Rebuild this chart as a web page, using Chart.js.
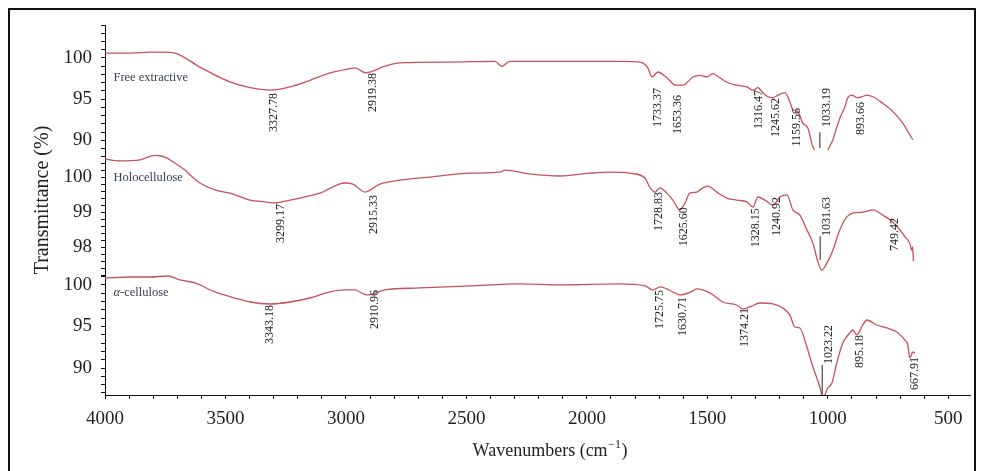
<!DOCTYPE html>
<html>
<head>
<meta charset="utf-8">
<script src="https://cdn.jsdelivr.net/npm/chart.js@4.4.1/dist/chart.umd.min.js"></script>
<style>
  html, body { margin: 0; padding: 0; background: #fff; overflow: hidden; }
  #wrap { position: relative; width: 981px; height: 471px; }
  #frame { position: absolute; left: 8px; top: 8px; width: 964px; height: 520px;
           border: 2px solid #111; pointer-events: none; }
</style>
</head>
<body>
<div id="wrap">
  <canvas id="chart" width="981" height="471"></canvas>
  <div id="frame"></div>
</div>
<script>
// x axis (wavenumbers, cm-1)
var xLabels = [4000, 3500, 3000, 2500, 2000, 1500, 1000, 500];
// y tick labels for each stacked panel
var topTicks = [90, 95, 100];
var midTicks = [98, 99, 100];
var botTicks = [90, 95, 100];

// Free extractive
var feWn = [4000, 3896, 3813, 3751, 3710, 3606, 3481, 3398, 3315, 3232, 3149, 3066, 2983, 2963, 2917, 2838, 2776, 2568, 2382, 2353, 2320, 2112, 1863, 1780, 1747, 1730, 1705, 1668, 1631, 1602, 1560, 1531, 1502, 1477, 1448, 1415, 1378, 1336, 1311, 1290, 1270, 1249, 1228, 1207, 1178, 1158, 1145, 1124, 1104, 1083, 1062, 1054, 1033, 1000, 979, 963, 950, 929, 917, 900, 880, 859, 838, 813, 772, 730, 689, 660, 647];
var feT = [100.6, 100.6, 100.7, 100.7, 100.6, 98.9, 97.1, 96.4, 96.1, 96.5, 97.3, 98.2, 98.7, 98.8, 98.2, 99.0, 99.4, 99.5, 99.6, 99.0, 99.6, 99.6, 99.6, 99.5, 98.8, 97.7, 98.3, 97.6, 96.7, 96.7, 97.7, 97.9, 97.7, 98.1, 97.6, 97.0, 96.7, 96.5, 96.1, 96.4, 95.8, 95.3, 95.2, 95.5, 95.8, 94.7, 93.7, 93.5, 92.1, 91.5, 89.2, 88.85, null, 88.85, 90.1, 91.6, 92.7, 94.1, 95.2, 95.5, 95.2, 95.3, 95.5, 95.3, 94.5, 93.5, 92.1, 90.7, 90.1];

// Holocellulose
var hoWn = [4000, 3938, 3855, 3793, 3751, 3710, 3668, 3647, 3606, 3544, 3481, 3398, 3336, 3295, 3232, 3191, 3108, 3004, 2971, 2921, 2859, 2776, 2651, 2485, 2361, 2340, 2237, 2112, 1988, 1905, 1822, 1759, 1739, 1718, 1697, 1668, 1643, 1614, 1593, 1573, 1544, 1519, 1498, 1461, 1419, 1378, 1336, 1311, 1290, 1261, 1228, 1199, 1170, 1145, 1116, 1087, 1062, 1041, 1025, 1004, 979, 950, 921, 896, 855, 813, 772, 730, 701, 680, 660, 652, 648, 645];
var hoT = [100.51, 100.46, 100.49, 100.62, 100.57, 100.40, 100.20, 100.06, 99.83, 99.63, 99.54, 99.34, 99.29, 99.26, 99.34, 99.40, 99.54, 99.83, 99.80, 99.57, 99.80, 99.91, 100.0, 100.11, 100.14, 100.2, 100.09, 100.03, 100.11, 100.14, 100.11, 99.97, 99.71, 99.57, 99.69, 99.54, 99.34, 99.06, 99.26, 99.54, 99.57, 99.69, 99.74, 99.57, 99.40, 99.34, 99.29, 99.14, 99.43, 99.34, 99.20, 99.43, 99.49, 99.06, 98.91, 98.49, 98.11, 97.57, 97.34, 97.54, 97.91, 98.49, 98.86, 98.97, 99.0, 99.06, 98.91, 98.71, 98.49, 98.29, 98.11, 97.91, 98.0, 97.6];

// alpha-cellulose
var acWn = [4000, 3896, 3813, 3739, 3689, 3627, 3544, 3461, 3398, 3315, 3232, 3149, 3066, 3004, 2963, 2913, 2838, 2693, 2485, 2278, 2112, 1863, 1759, 1726, 1697, 1635, 1614, 1560, 1544, 1490, 1436, 1378, 1353, 1324, 1282, 1228, 1187, 1158, 1137, 1116, 1087, 1062, 1033, 1021, 1000, 983, 963, 938, 909, 896, 880, 855, 838, 797, 755, 714, 680, 668, 660, 647, 639];
var acT = [100.84, 100.96, 100.96, 101.08, 100.6, 100.24, 99.16, 98.43, 97.95, 97.71, 97.95, 98.43, 99.16, 99.40, 99.40, 98.80, 99.40, 99.64, 99.88, 100.12, 100.0, 100.12, 99.88, 99.40, 99.76, 99.04, 98.80, 99.28, 99.52, 99.04, 97.95, 97.59, 97.11, 97.35, 97.83, 97.71, 97.23, 96.39, 94.94, 94.82, 92.53, 90.12, 87.71, 86.4, 87.59, 88.19, 90.60, 93.01, 94.22, 94.58, 93.98, 95.18, 95.78, 95.18, 94.82, 94.34, 93.37, 92.77, 91.2, 91.93, 91.8];

// peak labels: wavenumber and the transmittance where the label text ends
var fePeaks = [3327.78, 2919.38, 1733.37, 1653.36, 1316.47, 1245.62, 1159.56, 1033.19, 893.66];
var feLabelT = [95.76, 98.18, 96.36, 95.52, 96.12, 95.15, 93.94, 96.36, 94.67];
var hoPeaks = [3299.17, 2915.33, 1728.83, 1625.60, 1328.15, 1240.92, 1031.63, 749.42];
var hoLabelT = [99.23, 99.49, 99.57, 99.14, 99.11, 99.43, 99.43, 98.83];
var acPeaks = [3343.18, 2910.96, 1725.75, 1630.71, 1374.21, 1023.22, 895.18, 667.91];
var acLabelT = [97.59, 99.40, 99.40, 98.55, 97.23, 95.18, 93.98, 91.33];
// small marker line under the strongest band of each spectrum
var feMark = [1033.19, 91.0, 89.1];
var hoMark = [1031.63, 98.31, 97.63];
var acMark = [1023.22, 90.36, 86.75];

var serif = '"Liberation Serif", "DejaVu Serif", serif';
var lineColor = "#c9505c";

function pts(wn, t) {
  return wn.map(function (w, i) { return { x: w, y: t[i] }; });
}

function tickRange(lo, hi, step) {
  var out = [];
  for (var v = lo; v <= hi + 1e-9; v += step) out.push({ value: Math.round(v * 1000) / 1000 });
  return out;
}

function hasLabel(list, v) {
  return list.some(function (t) { return Math.abs(t - v) < 1e-6; });
}

function yScale(min, max, weight, stackWeight, labels, step) {
  return {
    type: "linear",
    position: "left",
    stack: "ftir",
    stackWeight: stackWeight,
    weight: weight,
    min: min,
    max: max,
    border: { color: "#111", width: 1 },
    grid: { drawOnChartArea: false, drawTicks: true, tickLength: 4, tickColor: "#111" },
    afterBuildTicks: function (scale) {
      scale.ticks = tickRange(Math.ceil(min / step) * step, max, step);
    },
    afterFit: function (scale) { scale.width = 105; },
    ticks: {
      autoSkip: false,
      padding: 9,
      color: "#222",
      font: { family: serif, size: 19 },
      callback: function (v) { return hasLabel(labels, v) ? String(v) : ""; },
    },
  };
}

var groups = [
  { axis: "yTop", peaks: fePeaks, tops: feLabelT, mark: feMark, name: "Free extractive", nameT: 97.6 },
  { axis: "yMid", peaks: hoPeaks, tops: hoLabelT, mark: hoMark, name: "Holocellulose", nameT: 99.97 },
  { axis: "yBot", peaks: acPeaks, tops: acLabelT, mark: acMark, name: "-cellulose", nameT: 99.04 },
];

var overlay = {
  id: "overlay",
  afterDatasetsDraw: function (chart) {
    var ctx = chart.ctx;
    var xs = chart.scales.x;
    ctx.save();
    groups.forEach(function (g, gi) {
      var ys = chart.scales[g.axis];
      // peak labels
      ctx.fillStyle = "#222";
      ctx.font = "12px " + serif;
      g.peaks.forEach(function (wn, i) {
        ctx.save();
        ctx.translate(xs.getPixelForValue(wn) + 7, ys.getPixelForValue(g.tops[i]));
        ctx.rotate(-Math.PI / 2);
        ctx.textAlign = "right";
        ctx.textBaseline = "middle";
        ctx.fillText(g.peaks[i].toFixed(2), 0, 0);
        ctx.restore();
      });
      // marker line
      var mx = xs.getPixelForValue(g.mark[0]);
      ctx.strokeStyle = "#555";
      ctx.lineWidth = 1.3;
      ctx.beginPath();
      ctx.moveTo(mx, ys.getPixelForValue(g.mark[1]));
      ctx.lineTo(mx, ys.getPixelForValue(g.mark[2]));
      ctx.stroke();
      // series name
      var nx = xs.getPixelForValue(3965);
      var ny = ys.getPixelForValue(g.nameT);
      ctx.fillStyle = "#3a3e56";
      ctx.textAlign = "left";
      ctx.textBaseline = "middle";
      if (gi === 2) {
        ctx.font = "italic 12.5px " + serif;
        ctx.fillText("\u03b1", nx, ny);
        nx += ctx.measureText("\u03b1").width;
      }
      ctx.font = "12.5px " + serif;
      ctx.fillText(g.name, nx, ny);
    });

    // axis titles
    ctx.fillStyle = "#222";
    ctx.save();
    ctx.translate(43, 200);
    ctx.rotate(-Math.PI / 2);
    ctx.textAlign = "center";
    ctx.textBaseline = "middle";
    ctx.font = "20px " + serif;
    ctx.fillText("Transmittance (%)", 0, 0);
    ctx.restore();

    var big = "18px " + serif, small = "12px " + serif;
    ctx.font = big;
    var a = "Wavenumbers (cm", c = ")";
    var wa = ctx.measureText(a).width, wc = ctx.measureText(c).width;
    ctx.font = small;
    var sup = "\u22121";
    var wb = ctx.measureText(sup).width + 1;
    var sx = 550 - (wa + wb + wc) / 2;
    ctx.textAlign = "left";
    ctx.textBaseline = "alphabetic";
    ctx.font = big;
    ctx.fillText(a, sx, 456);
    ctx.font = small;
    ctx.fillText(sup, sx + wa + 0.5, 448);
    ctx.font = big;
    ctx.fillText(c, sx + wa + wb, 456);
    ctx.restore();
  },
};

function ds(data, axis) {
  return {
    data: data,
    yAxisID: axis,
    borderColor: lineColor,
    borderWidth: 1.3,
    pointRadius: 0,
    cubicInterpolationMode: "monotone",
    spanGaps: false,
    fill: false,
  };
}

new Chart(document.getElementById("chart").getContext("2d"), {
  type: "line",
  data: {
    datasets: [
      ds(pts(feWn, feT), "yTop"),
      ds(pts(hoWn, hoT), "yMid"),
      ds(pts(acWn, acT), "yBot"),
    ],
  },
  options: {
    responsive: false,
    animation: false,
    devicePixelRatio: 1,
    layout: { padding: { top: 25, right: 11, left: 0, bottom: 0 } },
    plugins: { legend: { display: false }, tooltip: { enabled: false } },
    scales: {
      x: {
        type: "linear",
        reverse: true,
        min: 410,
        max: 4000,
        border: { color: "#111", width: 1 },
        grid: { drawOnChartArea: false, drawTicks: true, tickLength: 4, tickColor: "#111" },
        afterBuildTicks: function (scale) { scale.ticks = tickRange(500, 4000, 100); },
        afterFit: function (scale) { scale.height = 76; },
        ticks: {
          autoSkip: false,
          maxRotation: 0,
          padding: 9,
          color: "#222",
          font: { family: serif, size: 19 },
          callback: function (v) { return hasLabel(xLabels, v) ? String(v) : ""; },
        },
      },
      yBot: yScale(86.75, 101.2, 1, 120, botTicks, 1),
      yMid: yScale(97.2, 100.63, 2, 120, midTicks, 0.2),
      yTop: yScale(88.24, 104, 3, 130, topTicks, 1),
    },
  },
  plugins: [overlay],
});
</script>
</body>
</html>
